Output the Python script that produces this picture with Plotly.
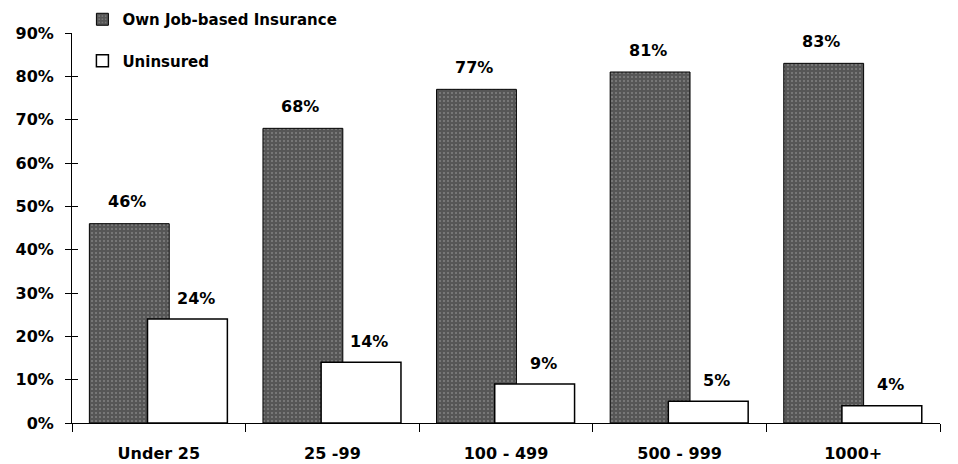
import plotly.graph_objects as go

# Firm size (number of employees) and share of workers in each coverage status
categories = ["Under 25", "25 -99", "100 - 499", "500 - 999", "1000+"]
own_job_based = [46, 68, 77, 81, 83]
uninsured = [24, 14, 9, 5, 4]
y_ticks = [0, 10, 20, 30, 40, 50, 60, 70, 80, 90]
y_tick_labels = [f"{v}%" for v in y_ticks]

FONT = "DejaVu Sans"
BAR_W = 0.46
DARK_OFFSET = -0.40
LIGHT_OFFSET = -0.065

fig = go.Figure()

fig.add_trace(go.Bar(
    name="Own Job-based Insurance",
    x=categories, y=own_job_based,
    width=BAR_W, offset=DARK_OFFSET,
    marker=dict(
        color="white",
        line=dict(color="black", width=1),
        pattern=dict(shape="+", fgcolor="#111111", bgcolor="#9a9a9a",
                     size=4, solidity=0.9),
    ),
    legendgroup="a",
))

fig.add_trace(go.Bar(
    name="Uninsured",
    x=categories, y=uninsured,
    width=BAR_W, offset=LIGHT_OFFSET,
    marker=dict(color="white", line=dict(color="black", width=1.5)),
    legendgroup="b",
))

# Value labels above each bar
label_font = dict(family=FONT, size=16, color="black", weight="bold")
for cat, v in zip(categories, own_job_based):
    fig.add_annotation(x=cat, y=v, text=f"{v}%", showarrow=False,
                       xshift=-32, yshift=22, yanchor="middle",
                       font=label_font)
for cat, v in zip(categories, uninsured):
    fig.add_annotation(x=cat, y=v, text=f"{v}%", showarrow=False,
                       xshift=37, yshift=21, yanchor="middle",
                       font=label_font)

fig.update_layout(
    width=958, height=464,
    margin=dict(l=72, r=18, t=33, b=41, autoexpand=False),
    barmode="overlay",
    paper_bgcolor="white", plot_bgcolor="white",
    font=dict(family=FONT, size=16, color="black"),
    showlegend=True,
    legend=dict(
        x=0.012, y=0.9935, xanchor="left", yanchor="top",
        xref="paper", yref="container",
        bgcolor="rgba(0,0,0,0)",
        font=dict(family=FONT, size=15, color="black", weight="bold"),
        traceorder="grouped", tracegroupgap=19, itemwidth=30,
    ),
    xaxis=dict(
        showline=True, linecolor="black", linewidth=1,
        ticks="outside", ticklen=8, tickcolor="black",
        tickson="boundaries",
        tickfont=dict(family=FONT, size=16, color="black", weight="bold"),
        ticklabelstandoff=16,
        showgrid=False, zeroline=False,
    ),
    yaxis=dict(
        range=[0, 90],
        tickvals=y_ticks, ticktext=y_tick_labels,
        showline=True, linecolor="black", linewidth=1,
        ticks="outside", ticklen=6, tickcolor="black",
        tickfont=dict(family=FONT, size=16, color="black", weight="bold"),
        ticklabelstandoff=8,
        showgrid=False, zeroline=False,
    ),
    yaxis2=dict(
        range=[0, 90], overlaying="y", side="left",
        tickvals=y_ticks, showticklabels=False,
        ticks="inside", ticklen=6, tickcolor="black",
        showline=False, showgrid=False, zeroline=False,
    ),
)

# Inner half of the crossing y-axis ticks
fig.add_trace(go.Scatter(x=[categories[0]], y=[0], yaxis="y2", mode="markers",
                         marker=dict(opacity=0), showlegend=False,
                         hoverinfo="skip"))

fig.write_html("out.html")
